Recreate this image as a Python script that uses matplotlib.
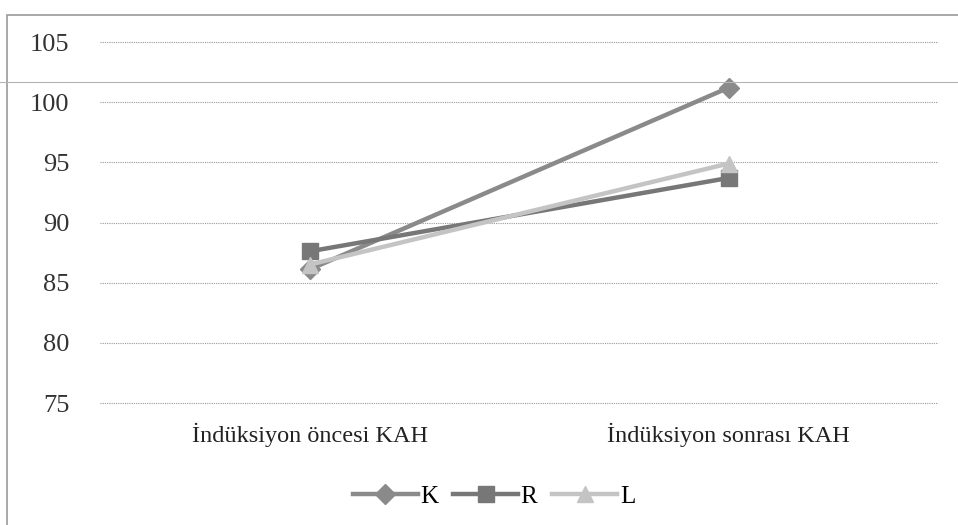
import matplotlib.pyplot as plt
from matplotlib.patches import Rectangle
from matplotlib.lines import Line2D

# KAH values before / after induction for the three groups
categories = ['İndüksiyon öncesi KAH', 'İndüksiyon sonrası KAH']
k_values = [86.1, 101.2]
r_values = [87.6, 93.7]
l_values = [86.5, 94.9]

series = [
    ('K', k_values, '#8a8a8a', 'D', 10),
    ('R', r_values, '#777777', 's', 11),
    ('L', l_values, '#c4c4c4', '^', 11),
]

plt.rcParams['font.family'] = ['Liberation Serif', 'DejaVu Serif']

fig = plt.figure(figsize=(9.58, 5.25), dpi=100)
ax = fig.add_axes([100 / 958, 1 - 403 / 525, 838 / 958, 361 / 525])

x = list(range(len(categories)))
for name, vals, color, marker, ms in series:
    ax.plot(x, vals, color=color, linewidth=3.2, marker=marker, markersize=ms,
            markerfacecolor=color, markeredgecolor=color, label=name, zorder=3)

ax.set_xlim(-0.5, len(categories) - 0.5)
ax.set_ylim(75, 105)
ax.set_yticks(range(75, 106, 5))
ax.set_xticks(x)
ax.set_xticklabels(categories, fontsize=17.5, color='#222222')
ax.tick_params(axis='y', length=0, pad=22, labelsize=19, labelcolor='#333333')
ax.tick_params(axis='x', length=0, pad=14)

ax.grid(axis='y', color='#999999', linestyle=(0, (1, 1)), linewidth=0.8)
for gl in ax.get_ygridlines():
    gl.set_clip_on(False)
ax.set_axisbelow(True)
for s in ax.spines.values():
    s.set_visible(False)

ax.legend(loc='upper center', bbox_to_anchor=(0.47, -0.165), ncol=3, frameon=False,
          fontsize=18, handlelength=2.6, handletextpad=0.1, columnspacing=0.6)

# outer chart border
fig.patches.append(Rectangle((7 / 958, -0.05), 1.2, 1 - 15 / 525 + 0.05,
                             transform=fig.transFigure, fill=False,
                             edgecolor='#9a9a9a', linewidth=1.2))
fig.lines.append(Line2D([0, 1], [1 - 82 / 525, 1 - 82 / 525],
                        transform=fig.transFigure, color='#b5b5b5', linewidth=0.8))

fig.savefig('out.png', dpi=100)
